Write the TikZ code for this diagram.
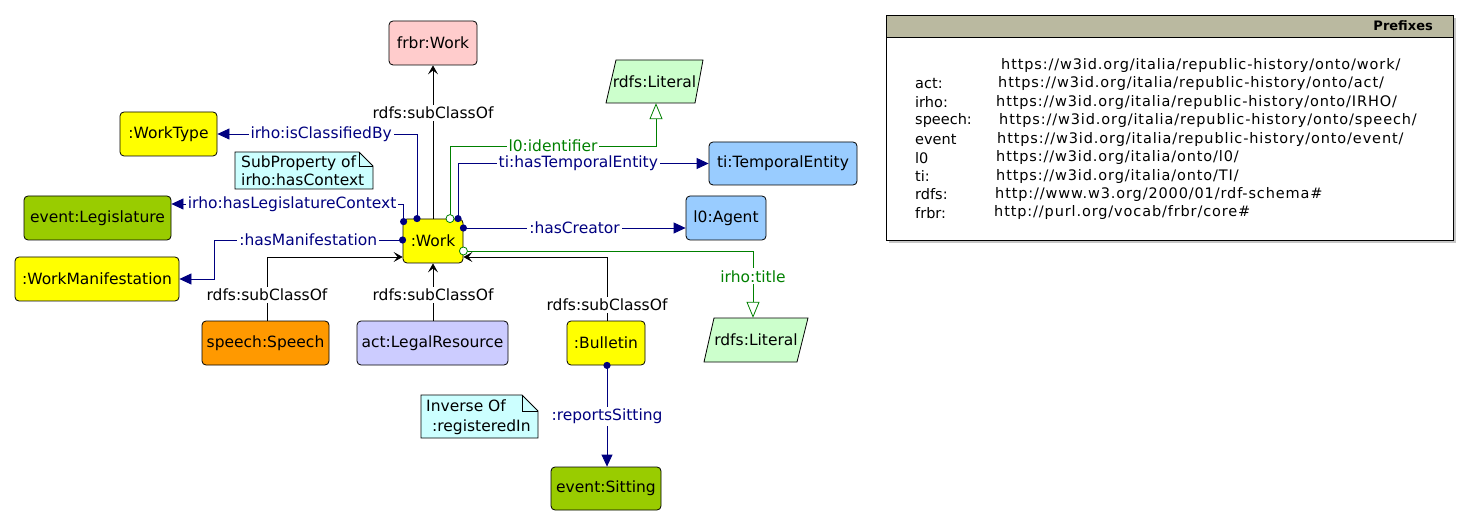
\documentclass[tikz,border=0pt]{standalone}
\usepackage{fontspec}
\setmainfont{DejaVu Sans}
\newfontfamily\urlfont[LetterSpace=6]{DejaVu Sans}
\usetikzlibrary{arrows.meta,calc}
\definecolor{navyc}{RGB}{0,0,128}
\definecolor{greenc}{RGB}{0,128,0}
\definecolor{pinkc}{RGB}{255,204,204}
\definecolor{yellowc}{RGB}{255,255,0}
\definecolor{olivec}{RGB}{153,204,0}
\definecolor{orangec}{RGB}{255,153,0}
\definecolor{lavc}{RGB}{204,204,255}
\definecolor{bluec}{RGB}{153,204,255}
\definecolor{litc}{RGB}{204,255,204}
\definecolor{notec}{RGB}{204,255,255}
\definecolor{headc}{RGB}{186,185,160}
\newcommand\diagfont{\fontsize{15.5}{18}\selectfont}
\newcommand\prefont{\fontsize{14.5}{17}\selectfont}
\begin{document}
\begin{tikzpicture}[x=1pt,y=-1pt,
  cls/.style={draw=black, line width=0.8pt, rounded corners=4pt, inner sep=0pt,
    font=\diagfont, minimum height=44pt},
  plain/.style={inner sep=0pt, font=\diagfont, minimum height=43pt},
  sub/.style={draw=black, line width=0.8pt, -{Stealth[length=9pt,width=10pt,inset=4pt]}},
  prop/.style={draw=navyc, line width=0.8pt, -{Triangle[length=12pt,width=11pt]}},
  dprop/.style={draw=greenc, line width=0.8pt, -{Triangle[open,length=16pt,width=13pt,fill=white]}},
  slbl/.style={font=\diagfont, text=black, fill=white, inner sep=2pt},
  plbl/.style={font=\diagfont, text=navyc, fill=white, inner sep=2pt},
  glbl/.style={font=\diagfont, text=greenc, fill=white, inner sep=2pt},
  notebox/.style={draw=black, line width=0.8pt, fill=notec},
  prow/.style={font=\prefont, anchor=west, inner sep=0pt},
  purl/.style={font=\prefont\urlfont, anchor=west, inner sep=0pt}
]
\useasboundingbox (0,0) rectangle (1471,526);

% ---------- class nodes ----------
\node[cls, fill=pinkc,   minimum width=88pt]  (frbr)     at (433,43)    {frbr:Work};
\node[cls, fill=yellowc, minimum width=97pt]  (worktype) at (168.5,134) {:WorkType};
\node[cls, fill=olivec,  minimum width=147pt] (legis)    at (97.5,218)  {event:Legislature};
\node[cls, fill=yellowc, minimum width=60pt]  (work)     at (433,241)   {:Work};
\node[cls, fill=yellowc, minimum width=164pt] (workman)  at (97,279)    {:WorkManifestation};
\node[cls, fill=orangec, minimum width=127pt] (speech)   at (265.5,343) {speech:Speech};
\node[cls, fill=lavc,    minimum width=151pt] (legal)    at (432.5,343) {act:LegalResource};
\node[cls, fill=yellowc, minimum width=78pt]  (bulletin) at (606,343)   {:Bulletin};
\node[cls, fill=olivec,  minimum width=110pt, minimum height=43pt] (sitting) at (606,488.5) {event:Sitting};
\node[cls, fill=bluec,   minimum width=148pt, minimum height=43pt] (temporal) at (783,163.5) {ti:TemporalEntity};
\node[cls, fill=bluec,   minimum width=80pt]  (agent)    at (726,218)   {l0:Agent};

% ---------- literals (parallelograms) ----------
\filldraw[fill=litc, draw=black, line width=0.8pt] (616,60) -- (703,60) -- (695,103) -- (606,103) -- cycle;
\node[plain, minimum width=97pt] (lit1) at (654.5,81.5) {rdfs:Literal};
\filldraw[fill=litc, draw=black, line width=0.8pt] (714,318) -- (808,318) -- (797,362) -- (704,362) -- cycle;
\node[plain, minimum width=104pt, minimum height=44pt] (lit2) at (756,340) {rdfs:Literal};

% ---------- notes ----------
\filldraw[notebox] (235,152) -- (359,152) -- (373,166) -- (373,189) -- (235,189) -- cycle;
\draw[line width=0.8pt] (359,152) -- (359,166) -- (373,166);
\node[font=\diagfont, align=left, anchor=west, inner sep=0pt] (note1) at (241,171)
  {SubProperty of\\irho:hasContext};

\filldraw[notebox] (421,395) -- (522,395) -- (538,411) -- (538,438) -- (421,438) -- cycle;
\draw[line width=0.8pt] (522,395) -- (522,411) -- (538,411);
\node[font=\fontsize{15.5}{20}\selectfont, align=left, anchor=west, inner sep=0pt] (note2) at (426,417)
  {Inverse Of\\\hspace{6pt}:registeredIn};

% ---------- connectors ----------
% subclass
\draw[sub] (work.north) -- node[slbl, pos=0.69] {rdfs:subClassOf} (frbr.south);
\draw[sub] (work.south |- legal.north) -- node[slbl, pos=0.45] {rdfs:subClassOf} (work.south);
\draw[sub] ([xshift=1.5pt]speech.north) |- node[slbl, pos=0.2] {rdfs:subClassOf} ([yshift=-16pt]work.west);
\draw[sub] ([xshift=1pt]bulletin.north) |- node[slbl, pos=0.125] {rdfs:subClassOf} ([yshift=-16pt]work.east);

% object properties
\coordinate (wcls) at ([xshift=-16pt]work.north);
\draw[prop] (wcls) |- node[plbl, pos=0.74] {irho:isClassifiedBy} (worktype.east);
\coordinate (wleg) at ([shift={(1pt,-3pt)}]work.north west);
\draw[prop] (wleg) |- node[plbl, pos=0.74] {irho:hasLegislatureContext} ([yshift=14pt]legis.east);
\coordinate (wman) at ([yshift=1pt]work.west);
\coordinate (mk) at (214,240);
\draw[prop] (wman) -- node[plbl, pos=0.5] {:hasManifestation} (mk) |- (workman.east);
\coordinate (wtmp) at ([xshift=25pt]work.north);
\draw[prop] (wtmp) |- node[plbl, pos=0.74] {ti:hasTemporalEntity} (temporal.west);
\coordinate (wcre) at ([yshift=13pt]work.east);
\draw[prop] (wcre) -- node[plbl, pos=0.5] {:hasCreator} ([yshift=-10pt]agent.west);
\coordinate (brep) at ([xshift=1pt]bulletin.south);
\draw[prop] (brep) -- node[plbl, pos=0.5] {:reportsSitting} (brep |- sitting.north);

% data properties
\coordinate (wid) at ([xshift=17pt]work.north);
\coordinate (idk) at (656,146);
\draw[dprop] (wid) |- node[glbl, pos=0.75] {l0:identifier} (idk) -- ([xshift=1.5pt]lit1.south);
\coordinate (wtit) at ([yshift=-10pt]work.east);
\draw[dprop] (wtit) -| node[glbl, pos=0.69] {irho:title} ([xshift=-3pt]lit2.north);

% end markers
\foreach \p in {wcls,wleg,wman,wtmp,wcre,brep}
  \fill[navyc] (\p) circle (3.6pt);
\foreach \p in {wid,wtit}
  \filldraw[fill=white, draw=greenc, line width=0.8pt] (\p) circle (4pt);

% ---------- prefixes ----------
\fill[gray!45] (889,18) rectangle (1456,243);
\filldraw[fill=white, draw=black, line width=0.8pt] (886,15) rectangle (1453,240);
\filldraw[fill=headc, draw=black, line width=0.8pt] (886,15) rectangle (1453,37);
\node[font=\fontsize{13}{15}\selectfont\bfseries, anchor=east, inner sep=0pt] (ptitle) at (1433,26) {Prefixes};

\node[purl] (u0) at (1001,65.5) {https://w3id.org/italia/republic-history/onto/work/};
\node[prow] (p1) at (915,83.9)  {act:};
\node[purl] (u1) at (998,83.9)  {https://w3id.org/italia/republic-history/onto/act/};
\node[prow] (p2) at (915,102.4) {irho:};
\node[purl] (u2) at (996,102.4) {https://w3id.org/italia/republic-history/onto/IRHO/};
\node[prow] (p3) at (915,120.8) {speech:};
\node[purl] (u3) at (999,120.8) {https://w3id.org/italia/republic-history/onto/speech/};
\node[prow] (p4) at (915,139.2) {event};
\node[purl] (u4) at (997,139.2) {https://w3id.org/italia/republic-history/onto/event/};
\node[prow] (p5) at (915,157.7) {l0};
\node[purl] (u5) at (996,157.7) {https://w3id.org/italia/onto/l0/};
\node[prow] (p6) at (915,176.1) {ti:};
\node[purl] (u6) at (996,176.1) {https://w3id.org/italia/onto/TI/};
\node[prow] (p7) at (915,194.5) {rdfs:};
\node[purl] (u7) at (995,194.5) {http://www.w3.org/2000/01/rdf-schema\#};
\node[prow] (p8) at (915,213)   {frbr:};
\node[purl] (u8) at (994,213)   {http://purl.org/vocab/frbr/core\#};
\end{tikzpicture}
\end{document}
